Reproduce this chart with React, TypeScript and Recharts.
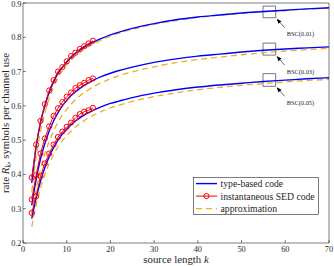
import React from "react";
import {
  LineChart,
  Line,
  XAxis,
  YAxis,
  Legend,
  ReferenceArea,
  ReferenceDot,
} from "recharts";

const FONT = "Liberation Serif";
const AXIS = "#262626";
const BLUE = "#0000ff";
const RED = "#ff0000";
const ORANGE = "#edb120";

// source lengths
const kSed = [2, 3, 4, 5, 6, 7, 8, 9, 10, 11, 12, 13, 14, 15, 16];
const kCurve = [
  2, 3, 4, 5, 6, 7, 8, 9, 10, 11, 12, 13, 14, 15, 16, 18, 20, 22, 25, 30, 35,
  40, 45, 50, 55, 60, 65, 70,
];

// instantaneous SED code
const sed01 = [0.391, 0.487, 0.556, 0.605, 0.645, 0.675, 0.7, 0.713, 0.73, 0.745, 0.755, 0.766, 0.774, 0.782, 0.79];
const sed03 = [0.327, 0.398, 0.461, 0.505, 0.54, 0.571, 0.593, 0.611, 0.627, 0.639, 0.652, 0.66, 0.667, 0.675, 0.68];
const sed05 = [0.288, 0.336, 0.395, 0.432, 0.461, 0.487, 0.509, 0.525, 0.539, 0.551, 0.565, 0.576, 0.583, 0.587, 0.594];

// type-based code
const type01 = [
  0.375, 0.48, 0.55, 0.6, 0.64, 0.67, 0.695, 0.712, 0.728, 0.742, 0.753, 0.763,
  0.771, 0.779, 0.786, 0.797, 0.807, 0.815, 0.826, 0.84, 0.851, 0.859, 0.865,
  0.871, 0.875, 0.879, 0.883, 0.886,
];
const type03 = [
  0.31, 0.385, 0.445, 0.49, 0.527, 0.556, 0.58, 0.6, 0.616, 0.63, 0.641, 0.651,
  0.66, 0.667, 0.674, 0.686, 0.695, 0.703, 0.713, 0.727, 0.737, 0.745, 0.751,
  0.757, 0.762, 0.766, 0.769, 0.772,
];
const type05 = [
  0.271, 0.33, 0.38, 0.42, 0.452, 0.478, 0.5, 0.518, 0.532, 0.545, 0.556, 0.565,
  0.573, 0.58, 0.587, 0.598, 0.607, 0.614, 0.624, 0.637, 0.647, 0.655, 0.661,
  0.666, 0.671, 0.675, 0.679, 0.682,
];

// approximation
const approx01 = [
  0.35, 0.45, 0.525, 0.58, 0.622, 0.655, 0.682, 0.702, 0.72, 0.734, 0.746,
  0.756, 0.765, 0.773, 0.78, 0.792, 0.803, 0.812, 0.823, 0.838, 0.849, 0.858,
  0.864, 0.87, 0.874, 0.878, 0.882, 0.885,
];
const approx03 = [
  0.28, 0.355, 0.415, 0.46, 0.497, 0.527, 0.552, 0.573, 0.59, 0.605, 0.618,
  0.629, 0.639, 0.647, 0.655, 0.668, 0.679, 0.688, 0.699, 0.714, 0.726, 0.735,
  0.742, 0.749, 0.755, 0.76, 0.764, 0.768,
];
const approx05 = [
  0.247, 0.31, 0.36, 0.4, 0.432, 0.458, 0.48, 0.498, 0.513, 0.526, 0.538,
  0.548, 0.557, 0.565, 0.572, 0.584, 0.594, 0.602, 0.613, 0.627, 0.638, 0.647,
  0.654, 0.66, 0.665, 0.67, 0.674, 0.677,
];

const xTicks = [0, 10, 20, 30, 40, 50, 60, 70];
const yTicks = [0.2, 0.3, 0.4, 0.5, 0.6, 0.7, 0.8, 0.9];

const channels = ["BSC(0.01)", "BSC(0.03)", "BSC(0.05)"];
const boxLow = [0.857, 0.748, 0.657];
const boxHigh = [0.891, 0.783, 0.694];
const BOX_K1 = 54.9;
const BOX_K2 = 57.8;

const toPoints = (ks: number[], vs: number[]) =>
  ks.map((k, i) => ({ k, v: vs[i] }));

const sedData = [sed01, sed03, sed05].map((s) => toPoints(kSed, s));
const typeData = [type01, type03, type05].map((s) => toPoints(kCurve, s));
const approxData = [approx01, approx03, approx05].map((s) => toPoints(kCurve, s));

const tickStyle = { fill: AXIS, fontSize: 8.3, fontFamily: FONT };

function ArrowNote(props: any) {
  const { cx, cy, text } = props;
  const tx = cx + 1;
  const ty = cy + 1;
  const ex = tx + 8;
  const ey = ty + 9;
  const ang = Math.atan2(ty - ey, tx - ex);
  const hl = 5;
  const hw = 2;
  const bx = tx - hl * Math.cos(ang);
  const by = ty - hl * Math.sin(ang);
  const px = -Math.sin(ang) * hw;
  const py = Math.cos(ang) * hw;
  return (
    <g>
      <line x1={ex} y1={ey} x2={bx} y2={by} stroke="#000" strokeWidth={0.6} />
      <polygon
        points={`${tx},${ty} ${bx + px},${by + py} ${bx - px},${by - py}`}
        fill="#000"
      />
      <text
        x={tx + 10}
        y={ty + 15}
        fontSize={6.4}
        fontFamily={FONT}
        fill={AXIS}
        dominantBaseline="central"
      >
        {text}
      </text>
    </g>
  );
}

function renderLegend() {
  const rows = [
    { label: "type-based code", color: BLUE, dash: undefined, dot: false },
    { label: "instantaneous SED code", color: RED, dash: undefined, dot: true },
    { label: "approximation", color: ORANGE, dash: "6 4", dot: false },
  ];
  return (
    <svg width={126} height={38} style={{ display: "block" }}>
      <rect x={0.5} y={0.5} width={125} height={37} fill="#fff" stroke={AXIS} strokeWidth={0.6} />
      {rows.map((r, i) => {
        const y = 6.6 + i * 12.5;
        return (
          <g key={r.label}>
            <line
              x1={3}
              x2={24}
              y1={y}
              y2={y}
              stroke={r.color}
              strokeWidth={r.dot ? 1 : 1.4}
              strokeDasharray={r.dash}
            />
            {r.dot && (
              <circle cx={13.5} cy={y} r={2.6} fill="none" stroke={r.color} strokeWidth={1} />
            )}
            <text
              x={27.5}
              y={y}
              fontSize={9.7}
              fontFamily={FONT}
              fill={AXIS}
              dominantBaseline="central"
            >
              {r.label}
            </text>
          </g>
        );
      })}
    </svg>
  );
}

// x title sits just under the plot box (left 23, right 329, top 3, bottom 243)
function XTitle() {
  return (
    <text
      x={176}
      y={259}
      textAnchor="middle"
      dominantBaseline="central"
      fontSize={10.8}
      fontFamily={FONT}
      fill={AXIS}
    >
      source length <tspan fontStyle="italic">k</tspan>
    </text>
  );
}

export default function App() {
  return (
    <div style={{ position: "absolute", left: 0, top: 0, width: 334, height: 266, background: "#fff" }}>
      <LineChart width={334} height={266} margin={{ top: 2, right: 4, bottom: 22, left: 22 }}>
        <XAxis
          type="number"
          dataKey="k"
          domain={[0, 70]}
          ticks={xTicks}
          height={1}
          tickSize={-3}
          tickMargin={6}
          tick={tickStyle}
          stroke={AXIS}
          strokeWidth={0.6}
          label={<XTitle />}
        />
        <XAxis
          xAxisId="top"
          orientation="top"
          type="number"
          dataKey="k"
          domain={[0, 70]}
          ticks={xTicks}
          height={1}
          tickSize={-3}
          tick={false}
          stroke={AXIS}
          strokeWidth={0.6}
        />
        <YAxis
          type="number"
          domain={[0.2, 0.9]}
          ticks={yTicks}
          width={1}
          tickSize={-3}
          tickMargin={4.5}
          tick={tickStyle}
          tickFormatter={(v: number) => v.toFixed(1)}
          stroke={AXIS}
          strokeWidth={0.6}
        />
        <YAxis
          yAxisId="right"
          orientation="right"
          type="number"
          domain={[0.2, 0.9]}
          ticks={yTicks}
          width={1}
          tickSize={-3}
          tick={false}
          stroke={AXIS}
          strokeWidth={0.6}
        />
        {approxData.map((d, i) => (
          <Line
            key={"a" + i}
            data={d}
            dataKey="v"
            type="monotone"
            stroke={ORANGE}
            strokeWidth={1.3}
            strokeDasharray="6 4"
            dot={false}
            isAnimationActive={false}
          />
        ))}
        {typeData.map((d, i) => (
          <Line
            key={"t" + i}
            data={d}
            dataKey="v"
            type="monotone"
            stroke={BLUE}
            strokeWidth={1.4}
            dot={false}
            isAnimationActive={false}
          />
        ))}
        {sedData.map((d, i) => (
          <Line
            key={"s" + i}
            data={d}
            dataKey="v"
            type="linear"
            stroke={RED}
            strokeWidth={1}
            dot={{ r: 2.6, stroke: RED, fill: "none", strokeWidth: 1 }}
            isAnimationActive={false}
          />
        ))}
        {channels.map((c, i) => (
          <ReferenceArea
            key={"b" + c}
            x1={BOX_K1}
            x2={BOX_K2}
            y1={boxLow[i]}
            y2={boxHigh[i]}
            fill="none"
            stroke="#555"
            strokeWidth={0.8}
          />
        ))}
        {channels.map((c, i) => (
          <ReferenceDot
            key={"n" + c}
            x={BOX_K2}
            y={boxLow[i]}
            r={0}
            shape={(p: any) => <ArrowNote {...p} text={c} />}
          />
        ))}
        <Legend
          layout="vertical"
          align="center"
          verticalAlign="middle"
          content={renderLegend}
          wrapperStyle={{ left: 193, top: 177, width: 126, height: 38 }}
        />
      </LineChart>
      <div
        style={{
          position: "absolute",
          left: 7,
          top: 123,
          transform: "translate(-50%, -50%) rotate(-90deg)",
          whiteSpace: "nowrap",
          fontFamily: FONT,
          fontSize: 10.8,
          lineHeight: "12px",
          color: AXIS,
          pointerEvents: "none",
        }}
      >
        rate <i>R</i>
        <sub style={{ fontSize: 7.5, fontStyle: "italic", verticalAlign: "-2px" }}>k</sub>, symbols per channel use
      </div>
    </div>
  );
}
